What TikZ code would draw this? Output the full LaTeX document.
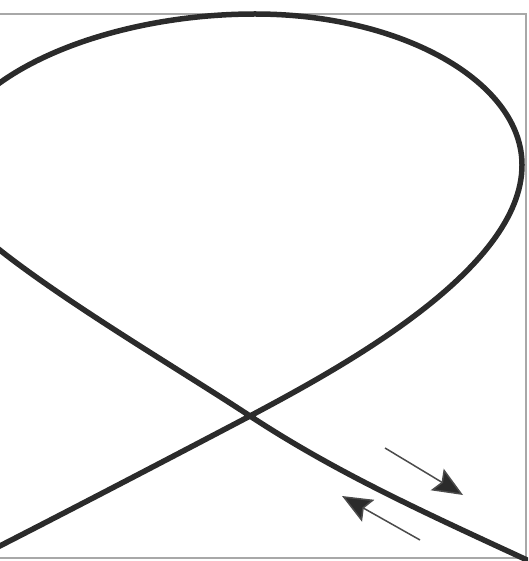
\documentclass[tikz,border=0pt]{standalone}
\usepackage{tikz}
\usetikzlibrary{arrows.meta}
\definecolor{mdark}{HTML}{2B2B2B}
\definecolor{mframe}{HTML}{A8A8A8}
\tikzset{
  loopline/.style={draw=mdark, line width=5.5pt},
  framebox/.style={draw=mframe, line width=1.5pt},
  flowarr/.style={draw=mdark!85, line width=1.5pt,
                  -{Stealth[length=30pt, width=25pt, inset=5pt, fill=mdark]}},
}
\begin{document}
\begin{tikzpicture}[x=1pt, y=-1pt]
  \useasboundingbox (0,0) rectangle (528,561);
  % Rahmen
  \draw[framebox] (-5,14) rectangle (526,558);
  % Schleife
  \coordinate (cross) at (250,416);
  \coordinate (rgt)   at (522,165);
  \coordinate (top)   at (255,14);
  \coordinate (lft)   at (-60,180);
  \begin{scope}
    \clip (0,0) rectangle (528,561);
    \draw[loopline] (-10,551) .. controls (80,505) and (170,458) .. (cross)
      .. controls (340,368) and (522,270) .. (rgt)
      .. controls (522,82) and (402,14) .. (top)
      .. controls (100,14) and (-60,80) .. (lft)
      .. controls (-60,230) and (150,350) .. (cross)
      .. controls (340,475) and (430,515) .. (540,566);
  \end{scope}
  % Pfeile
  \coordinate (a1s) at (385,448);
  \coordinate (a1e) at (463,495);
  \coordinate (a2s) at (420,540);
  \coordinate (a2e) at (342,496);
  \draw[flowarr] (a1s) -- (a1e);
  \draw[flowarr] (a2s) -- (a2e);
\end{tikzpicture}
\end{document}
